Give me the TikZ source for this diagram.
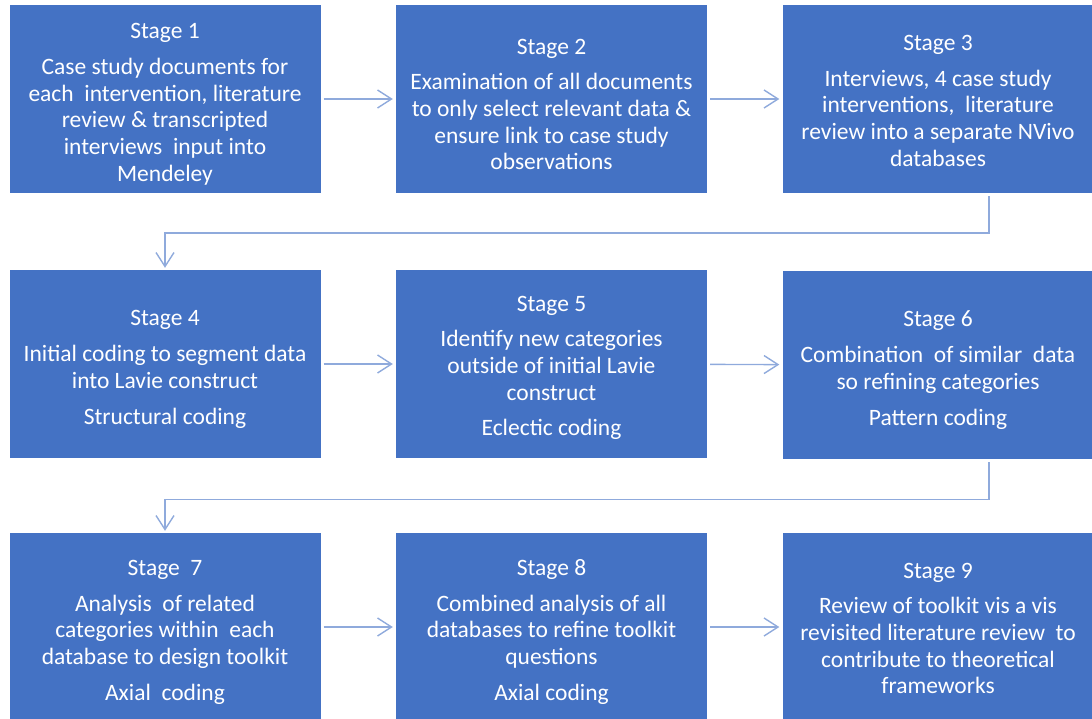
\documentclass[tikz,border=0pt]{standalone}
\usepackage{fontspec}
\setmainfont{Carlito}
\usetikzlibrary{arrows.meta}
\definecolor{stageblue}{HTML}{4472C4}
\definecolor{linkblue}{HTML}{8FAADC}
\newcommand{\stg}[2][26pt]{\rule{0pt}{#1}Stage #2}

\begin{document}
\begin{tikzpicture}[x=1pt, y=-1pt,
    stagebox/.style={fill=stageblue, text=white, align=center, inner sep=0pt,
      minimum width=311pt, minimum height=188pt, font=\fontsize{23.5}{26.7}\selectfont},
    link/.style={draw=linkblue, line width=1.4pt, -{Straight Barb[length=14pt, width=18pt]}}]
    \useasboundingbox (0, 0) rectangle (1092, 719);

    \node [stagebox] (s1) at (165, 99) {\stg{1}\\[9pt] Case study documents for\\ each\ \ intervention, literature\\ review \& transcripted\\ interviews\ \ input into\\ Mendeley};
    \node [stagebox] (s2) at (551.5, 99) {\stg{2}\\[9pt] Examination of all documents\\ to only select relevant data \&\\ ensure link to case study\\ observations};
    \node [stagebox] (s3) at (938, 99) {\stg[19pt]{3}\\[9pt] Interviews, 4 case study\\ interventions,\ \ literature\\ review into a separate NVivo\\ databases};

    \node [stagebox] (s4) at (165, 364) {\stg{4}\\[9pt] Initial coding to segment data\\ into Lavie construct\\[9pt] Structural coding};
    \node [stagebox] (s5) at (551.5, 364) {\stg[23pt]{5}\\[9pt] Identify new categories\\ outside of initial Lavie\\ construct\\[9pt] Eclectic coding};
    \node [stagebox] (s6) at (938, 365) {\stg{6}\\[9pt] Combination\ \ of similar\ \ data\\ so refining categories\\[9pt] Pattern coding};

    \node [stagebox] (s7) at (165, 627) {\stg{\ 7}\\[9pt] Analysis\ \ of related\\ categories within\ \ each\\ database to design toolkit\\[9pt] Axial\ \ coding};
    \node [stagebox] (s8) at (551.5, 627) {\stg{8}\\[9pt] Combined analysis of all\\ databases to refine toolkit\\ questions\\[9pt] Axial coding};
    \node [stagebox] (s9) at (938, 627) {\stg[18pt]{9}\\[9pt] Review of toolkit vis a vis\\ revisited literature review\ \ to\\ contribute to theoretical\\ frameworks};

    \draw [link, shorten <=3pt, shorten >=3pt] (s1) -- (s2);
    \draw [link, shorten <=3pt, shorten >=3pt] (s2) -- (s3);
    \draw [link, shorten <=3pt, shorten >=3pt] (s4) -- (s5);
    \draw [link, shorten <=3pt, shorten >=3pt] (s5) -- (s6);
    \draw [link, shorten <=3pt, shorten >=3pt] (s7) -- (s8);
    \draw [link, shorten <=3pt, shorten >=3pt] (s8) -- (s9);

    \draw [link, shorten >=2pt] ([xshift=51pt, yshift=-3pt]s3.south) -- ++(0, 37) -| (s4.north);
    \draw [link, shorten >=2pt] ([xshift=51pt, yshift=-3pt]s6.south) -- ++(0, 37) -| (s7.north);
\end{tikzpicture}
\end{document}
